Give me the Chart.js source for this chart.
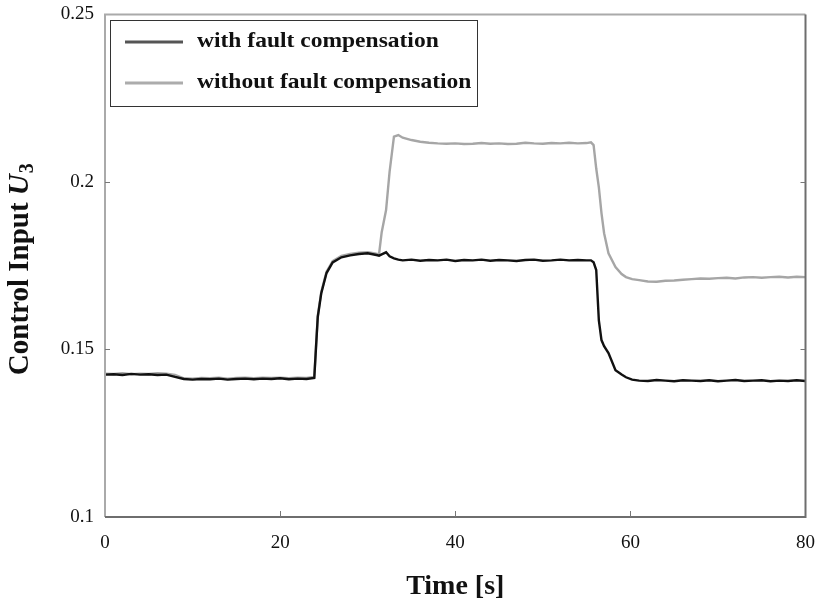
<!DOCTYPE html>
<html>
<head>
<meta charset="utf-8">
<script src="https://cdn.jsdelivr.net/npm/chart.js@4"></script>
<style>
  html, body { margin: 0; padding: 0; background: #fff; }
  #wrap { width: 822px; height: 605px; }
</style>
</head>
<body>
<div id="wrap"><canvas id="u3Chart" width="822" height="605"></canvas></div>
<script>
// time samples [s], shared by both series
const timeS = [
  0, 1, 2, 3, 4, 5, 6, 7, 8, 9, 10, 11, 12, 13, 14, 15, 16, 17, 18, 19, 20, 21, 22, 23,
  23.9, 24.1, 24.3, 24.7, 25.3, 26, 27, 28, 29, 30, 31, 31.3, 31.6, 32.1, 32.5, 33, 33.5,
  34, 35, 36, 37, 38, 39, 40, 41, 42, 43, 44, 45, 46, 47, 48, 49, 50, 51, 52, 53, 54, 55,
  55.5, 55.8, 56.1, 56.4, 56.7, 57, 57.5, 58.3, 59, 59.5, 60.2,
  61, 62, 63, 64, 65, 66, 67, 68, 69, 70, 71, 72, 73, 74, 75, 76, 77, 78, 79, 80
];

const withComp = [
  0.1425, 0.1426, 0.1424, 0.1427, 0.1425, 0.1426, 0.1424, 0.1425, 0.1418, 0.1412, 0.1410, 0.1412,
  0.1411, 0.1413, 0.1410, 0.1412, 0.1413, 0.1411, 0.1413, 0.1412, 0.1414, 0.1411, 0.1413, 0.1412,
  0.1415, 0.1507, 0.1597, 0.1668, 0.1728, 0.1760, 0.1775, 0.1781, 0.1785, 0.1787, 0.1782, 0.1780,
  0.1784, 0.1790, 0.1778, 0.1772, 0.1768,
  0.1766, 0.1768, 0.1765, 0.1767, 0.1766, 0.1768, 0.1764, 0.1767, 0.1766, 0.1768, 0.1765, 0.1767,
  0.1766, 0.1764, 0.1767, 0.1768, 0.1765, 0.1766, 0.1768, 0.1766, 0.1767, 0.1766,
  0.1766, 0.1760, 0.1737, 0.1587, 0.1528, 0.1510, 0.1489, 0.1438, 0.1425, 0.1417, 0.1410,
  0.1407, 0.1406, 0.1409, 0.1407, 0.1405, 0.1408, 0.1407, 0.1406, 0.1408, 0.1405, 0.1407, 0.1409,
  0.1406, 0.1407, 0.1408, 0.1405, 0.1407, 0.1406, 0.1408, 0.1406
];

const withoutComp = [
  0.1428, 0.1427, 0.1429, 0.1426, 0.1428, 0.1427, 0.1429, 0.1428, 0.1424, 0.1414, 0.1413, 0.1415,
  0.1414, 0.1416, 0.1413, 0.1415, 0.1416, 0.1414, 0.1416, 0.1415, 0.1416, 0.1414, 0.1416, 0.1415,
  0.1418, 0.1510, 0.1600, 0.1672, 0.1732, 0.1764, 0.1779, 0.1785, 0.1789, 0.1790, 0.1786, 0.1785,
  0.1850, 0.1916, 0.2030, 0.2135, 0.2140,
  0.2132, 0.2125, 0.2120, 0.2117, 0.2115, 0.2114, 0.2115, 0.2113, 0.2114, 0.2116, 0.2114, 0.2115,
  0.2113, 0.2114, 0.2117, 0.2115, 0.2114, 0.2116, 0.2115, 0.2117, 0.2115, 0.2116,
  0.2118, 0.2110, 0.2040, 0.1984, 0.1907, 0.1847, 0.1787, 0.1746, 0.1725, 0.1716, 0.1710,
  0.1707, 0.1703, 0.1702, 0.1705, 0.1706, 0.1708, 0.1710, 0.1712, 0.1711, 0.1713, 0.1714, 0.1712,
  0.1715, 0.1716, 0.1714, 0.1716, 0.1717, 0.1715, 0.1717, 0.1716
];

const xTicks = [0, 20, 40, 60, 80];
const yTicks = [0.1, 0.15, 0.2, 0.25];

const serif = '"Liberation Serif", "Times New Roman", serif';

function toPoints(ys) {
  return timeS.map((t, i) => ({ x: t, y: ys[i] }));
}

// frame, inward ticks, legend and the y title with italic U and subscript 3
const decorations = {
  id: 'decorations',
  afterDraw(chart) {
    const { ctx, chartArea: a, scales } = chart;
    const x = scales.x, y = scales.y;
    ctx.save();
    // frame
    ctx.lineWidth = 2;
    ctx.strokeStyle = '#aaaaaa';
    ctx.beginPath();
    ctx.moveTo(a.left, a.bottom); ctx.lineTo(a.left, a.top); ctx.lineTo(a.right, a.top);
    ctx.stroke();
    ctx.strokeStyle = '#6e6e6e';
    ctx.beginPath();
    ctx.moveTo(a.left, a.bottom); ctx.lineTo(a.right, a.bottom); ctx.lineTo(a.right, a.top);
    ctx.stroke();
    // inward ticks
    ctx.lineWidth = 1;
    ctx.strokeStyle = '#777777';
    ctx.beginPath();
    xTicks.slice(1, -1).forEach(v => {
      const px = Math.round(x.getPixelForValue(v)) + 0.5;
      ctx.moveTo(px, a.bottom); ctx.lineTo(px, a.bottom - 6);
    });
    yTicks.slice(1, -1).forEach(v => {
      const py = Math.round(y.getPixelForValue(v)) + 0.5;
      ctx.moveTo(a.left, py); ctx.lineTo(a.left + 5, py);
      ctx.moveTo(a.right, py); ctx.lineTo(a.right - 5, py);
    });
    ctx.stroke();

    // legend
    const bx = 110, by = 20, bw = 367, bh = 86;
    ctx.fillStyle = '#ffffff';
    ctx.fillRect(bx, by, bw, bh);
    ctx.lineWidth = 1;
    ctx.strokeStyle = '#333333';
    ctx.strokeRect(bx + 0.5, by + 0.5, bw, bh);
    const rows = [
      { label: chart.data.datasets[0].label, color: '#555555', yy: 42 },
      { label: chart.data.datasets[1].label, color: '#acacac', yy: 83 }
    ];
    ctx.textBaseline = 'middle';
    ctx.textAlign = 'left';
    rows.forEach(r => {
      ctx.strokeStyle = r.color;
      ctx.lineWidth = 3;
      ctx.beginPath();
      ctx.moveTo(125, r.yy); ctx.lineTo(183, r.yy);
      ctx.stroke();
      ctx.save();
      ctx.translate(197, r.yy);
      ctx.scale(1.12, 1);
      ctx.font = 'bold 21px ' + serif;
      ctx.fillStyle = '#111111';
      ctx.fillText(r.label, 0, 0);
      ctx.restore();
    });

    // y title
    ctx.translate(21, (a.top + a.bottom) / 2 + 4);
    ctx.rotate(-Math.PI / 2);
    ctx.fillStyle = '#111111';
    ctx.textBaseline = 'middle';
    const part1 = 'Control Input ';
    ctx.font = 'bold 29px ' + serif;
    const w1 = ctx.measureText(part1).width;
    ctx.font = 'bold italic 29px ' + serif;
    const w2 = ctx.measureText('U').width;
    ctx.font = 'bold 20px ' + serif;
    const w3 = ctx.measureText('3').width;
    let sx = -(w1 + w2 + w3) / 2;
    ctx.textAlign = 'left';
    ctx.font = 'bold 29px ' + serif;
    ctx.fillText(part1, sx, 0);
    ctx.font = 'bold italic 29px ' + serif;
    ctx.fillText('U', sx + w1, 0);
    ctx.font = 'bold 20px ' + serif;
    ctx.fillText('3', sx + w1 + w2 + 1, 7);
    ctx.restore();
  }
};

new Chart(document.getElementById('u3Chart').getContext('2d'), {
  type: 'line',
  data: {
    datasets: [
      {
        label: 'with fault compensation',
        data: toPoints(withComp),
        borderColor: '#111111',
        borderWidth: 2.4,
        pointRadius: 0,
        tension: 0,
        order: 1
      },
      {
        label: 'without fault compensation',
        data: toPoints(withoutComp),
        borderColor: '#a6a6a6',
        borderWidth: 2.4,
        pointRadius: 0,
        tension: 0,
        order: 2
      }
    ]
  },
  options: {
    responsive: false,
    animation: false,
    layout: { padding: { top: 0, right: -2.5, left: 0, bottom: 0 } },
    plugins: {
      legend: { display: false },
      tooltip: { enabled: false }
    },
    scales: {
      x: {
        type: 'linear',
        min: 0,
        max: 80,
        afterBuildTicks: s => { s.ticks = xTicks.map(v => ({ value: v })); },
        afterFit: s => { s.height = 88; },
        grid: { display: false },
        border: { display: false },
        ticks: {
          color: '#111111',
          padding: 7,
          font: { family: serif, size: 19 }
        },
        title: {
          display: true,
          text: 'Time [s]',
          color: '#111111',
          font: { family: serif, size: 28, weight: 'bold' },
          padding: { top: 9, bottom: 1 }
        }
      },
      y: {
        type: 'linear',
        min: 0.1,
        max: 0.25,
        afterBuildTicks: s => { s.ticks = yTicks.map(v => ({ value: v })); },
        afterFit: s => { s.width = 105; },
        grid: { display: false },
        border: { display: false },
        ticks: {
          color: '#111111',
          padding: 3,
          font: { family: serif, size: 19 },
          callback: v => String(Number(v.toFixed(2)))
        }
      }
    }
  },
  plugins: [decorations]
});
</script>
</body>
</html>
